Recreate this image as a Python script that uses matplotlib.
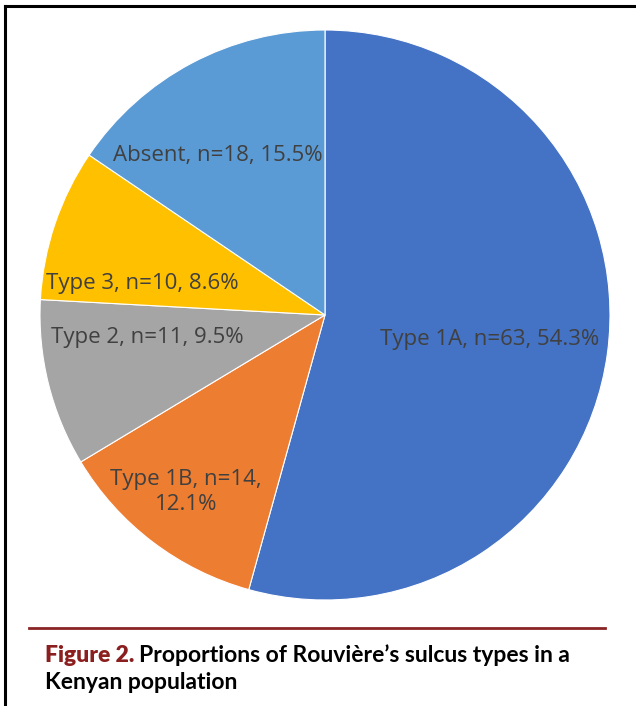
import matplotlib
matplotlib.use("Agg")
import matplotlib.pyplot as plt
from matplotlib.lines import Line2D

categories = ["Type 1A", "Type 1B", "Type 2", "Type 3", "Absent"]
counts = [63, 14, 11, 10, 18]
percents = [54.3, 12.1, 9.5, 8.6, 15.5]
colors = ["#4472C4", "#ED7D31", "#A5A5A5", "#FFC000", "#5B9BD5"]
caption_bold = "Figure 2."
caption_rest = "Proportions of Rouvière’s sulcus types in a"
caption_line2 = "Kenyan population"

W, H = 636, 706
DPI = 100
fig = plt.figure(figsize=(W / DPI, H / DPI), dpi=DPI)
fig.patch.set_facecolor("white")

# pie axes in pixel units: centre (325, 315) from top-left, radius 285
cx, cy, R = 325, 315, 285
half = 300
ax = fig.add_axes([(cx - half) / W, (H - cy - half) / H, 2 * half / W, 2 * half / H])

wedges, _ = ax.pie(counts, colors=colors, startangle=90, counterclock=False,
                   radius=R, wedgeprops=dict(edgecolor="white", linewidth=0.8))
ax.set_xlim(-half, half)
ax.set_ylim(-half, half)
ax.set_aspect("equal")
ax.axis("off")

labels = [f"{c}, n={n}, {p}%" for c, n, p in zip(categories, counts, percents)]
labels[1] = f"{categories[1]}, n={counts[1]},\n{percents[1]}%"
# label offsets (pixels, relative to centre; y up)
offsets = [(165, -25), (-139, -177), (-178, -23), (-183, 32), (-107, 160)]
for lab, (dx, dy) in zip(labels, offsets):
    ax.text(dx, dy, lab, ha="center", va="center", fontsize=16,
            family="Open Sans", color="#404040", linespacing=1.2)

# border (left and top)
fig.add_artist(Line2D([5 / W, 5 / W], [0, 1 - 6 / H], transform=fig.transFigure,
                      color="black", linewidth=2.2))
fig.add_artist(Line2D([5 / W, 1], [1 - 6 / H, 1 - 6 / H], transform=fig.transFigure,
                      color="black", linewidth=2.2))
# red rule
fig.add_artist(Line2D([29 / W, 605 / W], [1 - 628 / H, 1 - 628 / H], transform=fig.transFigure,
                      color="#8B2525", linewidth=2.0))

# caption
fs = 16.5
t1 = fig.text(45 / W, 1 - 662 / H, caption_bold, ha="left", va="baseline",
              fontsize=fs, fontweight="heavy", family="Lato", color="#8B1E1E")
fig.canvas.draw()
bb = t1.get_window_extent()
fig.text((bb.x1 + 5) / W, 1 - 662 / H, caption_rest, ha="left", va="baseline",
         fontsize=fs, fontweight="bold", family="Lato", color="black")
fig.text(45 / W, 1 - 689 / H, caption_line2, ha="left", va="baseline",
         fontsize=fs, fontweight="bold", family="Lato", color="black")

fig.savefig("out.png", dpi=DPI)
